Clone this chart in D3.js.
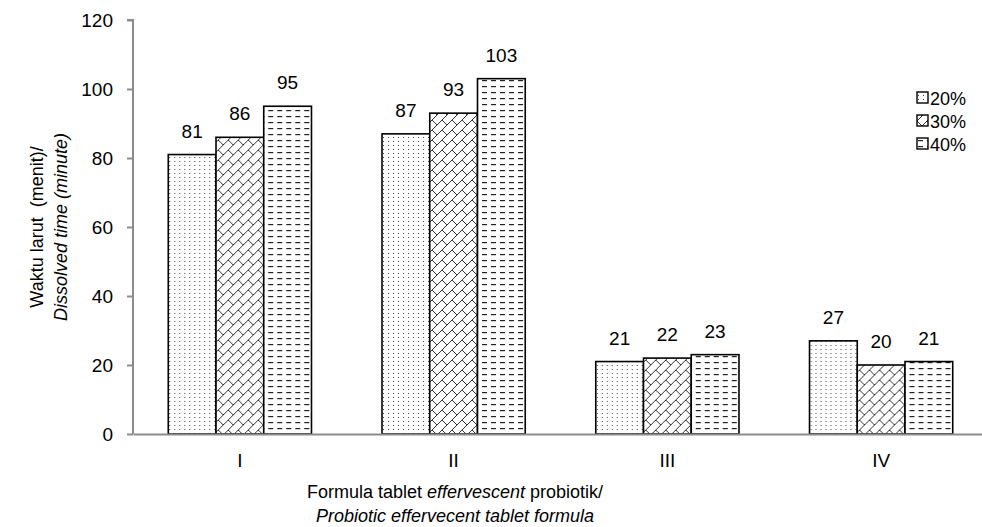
<!DOCTYPE html>
<html>
<head>
<meta charset="utf-8">
<script src="https://cdn.jsdelivr.net/npm/d3@7"></script>
<style>
  body { margin: 0; background: #fff; }
  svg { display: block; font-family: "Liberation Sans", Arial, sans-serif; }
</style>
</head>
<body>
<svg id="chart" width="982" height="527"></svg>
<script>
// Dissolution time of probiotic effervescent tablets per formula and concentration
const categories = ["I", "II", "III", "IV"];
const seriesNames = ["20%", "30%", "40%"];
const values20 = [81, 87, 21, 27];
const values30 = [86, 93, 22, 20];
const values40 = [95, 103, 23, 21];
const yTicks = [0, 20, 40, 60, 80, 100, 120];

const seriesValues = [values20, values30, values40];
const rows = categories.map((c, i) => ({
  cat: c,
  vals: seriesNames.map((s, j) => ({ key: s, idx: j, value: seriesValues[j][i] }))
}));

const svg = d3.select("#chart");
const margin = { left: 133, top: 20, bottom: 93 };
const plotRight = 988;
const height = 527;

const x0 = d3.scaleBand().domain(categories).range([margin.left, plotRight]).paddingInner(0.33).paddingOuter(0.165);
const x1 = d3.scaleBand().domain(seriesNames).range([0, x0.bandwidth()]);
const y = d3.scaleLinear().domain([0, 120]).range([height - margin.bottom, margin.top]);

// Fill patterns for each series
const defs = svg.append("defs");
// 20%: fine dot grid
const p1 = defs.append("pattern").attr("id", "pat0").attr("patternUnits", "userSpaceOnUse")
  .attr("width", 5).attr("height", 4);
p1.append("rect").attr("width", 5).attr("height", 4).attr("fill", "#fff");
p1.append("rect").attr("x", 1).attr("y", 1).attr("width", 1).attr("height", 1).attr("fill", "#444");
// 30%: diagonal brick
const p2 = defs.append("pattern").attr("id", "pat1").attr("patternUnits", "userSpaceOnUse")
  .attr("width", 10).attr("height", 10);
p2.append("rect").attr("width", 10).attr("height", 10).attr("fill", "#fff");
p2.append("path").attr("d", "M-1,11 L11,-1 M0,0 L5,5 M-5,5 L0,10 M10,0 L15,5")
  .attr("stroke", "#333").attr("stroke-width", 1).attr("fill", "none");
// 40%: staggered horizontal dashes
const p3 = defs.append("pattern").attr("id", "pat2").attr("patternUnits", "userSpaceOnUse")
  .attr("width", 9).attr("height", 6);
p3.append("rect").attr("width", 9).attr("height", 6).attr("fill", "#fff");
p3.append("rect").attr("x", 1).attr("y", 2).attr("width", 5).attr("height", 1.2).attr("fill", "#222");

// Y axis
const yAxis = d3.axisLeft(y).tickValues(yTicks).tickSize(6).tickPadding(14).tickFormat(d3.format("d"));
const gy = svg.append("g").attr("transform", `translate(${margin.left},0)`).call(yAxis);
gy.select(".domain").attr("stroke", "#8c8c8c").attr("stroke-width", 2).attr("d", `M-6,${margin.top}H0V${y(0)}`);
gy.selectAll(".tick line").attr("stroke", "#8c8c8c").attr("stroke-width", 2);
gy.selectAll(".tick text").attr("font-size", 19).attr("fill", "#000")
  .attr("font-family", "Liberation Sans, Arial, sans-serif");

// Bars
const groups = svg.append("g").selectAll("g").data(rows).join("g")
  .attr("transform", d => `translate(${x0(d.cat)},0)`);
groups.selectAll("rect").data(d => d.vals).join("rect")
  .attr("x", d => x1(d.key))
  .attr("y", d => y(d.value))
  .attr("width", x1.bandwidth())
  .attr("height", d => y(0) - y(d.value))
  .attr("fill", d => `url(#pat${d.idx})`)
  .attr("stroke", "#000").attr("stroke-width", 1.6);
groups.selectAll("text").data(d => d.vals).join("text")
  .attr("x", d => x1(d.key) + x1.bandwidth() / 2)
  .attr("y", d => y(d.value) - 17)
  .attr("text-anchor", "middle").attr("font-size", 19).attr("fill", "#000")
  .text(d => d.value);

// X axis
const xAxis = d3.axisBottom(x0).tickSize(0).tickPadding(20);
const gx = svg.append("g").attr("transform", `translate(0,${y(0)})`).call(xAxis);
gx.select(".domain").attr("stroke", "#8c8c8c").attr("stroke-width", 2);
gx.selectAll(".tick text").attr("font-size", 19).attr("fill", "#000")
  .attr("font-family", "Liberation Sans, Arial, sans-serif");

// Axis titles
const xt = svg.append("text").attr("x", 455).attr("y", 498).attr("text-anchor", "middle").attr("font-size", 18);
xt.append("tspan").text("Formula tablet ");
xt.append("tspan").attr("font-style", "italic").text("effervescent");
xt.append("tspan").text(" probiotik/");
svg.append("text").attr("x", 455).attr("y", 522).attr("text-anchor", "middle").attr("font-size", 18)
  .attr("font-style", "italic").text("Probiotic effervecent tablet formula");

const yc = (y(0) + y(120)) / 2;
svg.append("text").attr("transform", `translate(43,${yc}) rotate(-90)`).attr("text-anchor", "middle")
  .attr("font-size", 18).attr("xml:space", "preserve").text("Waktu larut  (menit)/");
svg.append("text").attr("transform", `translate(67,${yc}) rotate(-90)`).attr("text-anchor", "middle")
  .attr("font-size", 18).attr("font-style", "italic").text("Dissolved time (minute)");

// Legend
const legend = svg.append("g").attr("transform", "translate(917,98)");
const li = legend.selectAll("g").data(seriesNames).join("g")
  .attr("transform", (d, i) => `translate(0,${i * 23})`);
li.append("rect").attr("x", 0).attr("y", -6).attr("width", 11).attr("height", 11)
  .attr("fill", (d, i) => `url(#pat${i})`).attr("stroke", "#000").attr("stroke-width", 1.4);
li.append("text").attr("x", 13).attr("y", 7).attr("font-size", 18).text(d => d);
</script>
</body>
</html>
